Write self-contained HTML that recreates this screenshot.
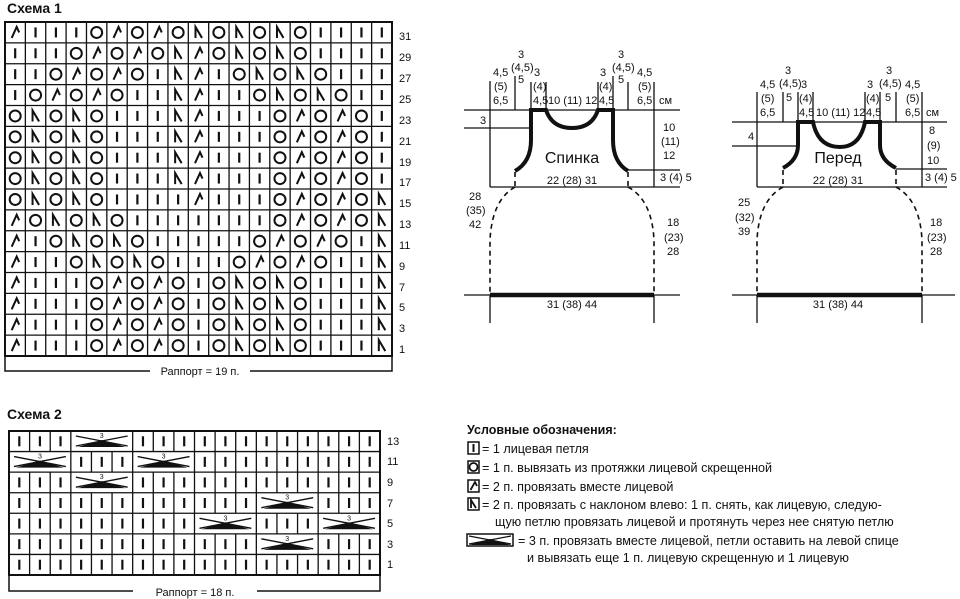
<!DOCTYPE html>
<html><head><meta charset="utf-8">
<style>
html,body{margin:0;padding:0;background:#fff;}
svg{display:block;font-family:"Liberation Sans","DejaVu Sans",sans-serif;}
text{fill:#111;}
</style></head>
<body>
<svg id="s" width="960" height="599" viewBox="0 0 960 599" xmlns="http://www.w3.org/2000/svg">
<defs>
<g id="gI"><line x1="0" y1="-5" x2="0" y2="5" stroke="#111" stroke-width="2.2"/></g>
<g id="gO"><circle cx="0" cy="0" r="5.5" fill="none" stroke="#111" stroke-width="2"/></g>
<g id="gA"><path d="M-3.5,5.5 L1.5,-5.5 L4,0" fill="none" stroke="#111" stroke-width="2"/></g>
<g id="gN"><path d="M-3,5.5 L-3,-5.5 L3.5,5.5" fill="none" stroke="#111" stroke-width="2"/></g>
</defs>
<!-- Schema 1 -->
<text x="7" y="13" font-size="14" font-weight="bold">Схема 1</text>
<g id="g1"></g>
<g font-size="11">
<text x="399" y="40">31</text><text x="399" y="61">29</text><text x="399" y="82">27</text><text x="399" y="103">25</text>
<text x="399" y="124">23</text><text x="399" y="145">21</text><text x="399" y="166">19</text><text x="399" y="186">17</text>
<text x="399" y="207">15</text><text x="399" y="228">13</text><text x="399" y="249">11</text><text x="399" y="270">9</text>
<text x="399" y="291">7</text><text x="399" y="311">5</text><text x="399" y="332">3</text><text x="399" y="353">1</text>
</g>
<path d="M5,356 V371 H150 M250,371 H392 V356" fill="none" stroke="#111" stroke-width="1.5"/>
<text x="200" y="375" font-size="11" text-anchor="middle">Раппорт = 19 п.</text>

<!-- Schema 2 -->
<text x="7" y="419" font-size="14" font-weight="bold">Схема 2</text>
<g id="g2"></g>
<g font-size="11">
<text x="387" y="445">13</text><text x="387" y="465">11</text><text x="387" y="486">9</text><text x="387" y="507">7</text>
<text x="387" y="527">5</text><text x="387" y="548">3</text><text x="387" y="568">1</text>
</g>
<path d="M9,575 V591 H133 M257,591 H380 V575" fill="none" stroke="#111" stroke-width="1.5"/>
<text x="195" y="596" font-size="11" text-anchor="middle">Раппорт = 18 п.</text>

<!-- Back -->
<g stroke="#111" stroke-width="1.3" fill="none">
<path d="M490,81 V187 M515,76 V110 M531,82 V110 M546,82 V110 M598,82 V110 M613,76 V110 M628,82 V110 M654,82 V187"/>
<path d="M464,110 H680 M464,128 H531 M628,170 H680 M490,187 H680"/>
<path d="M490,295 V323 M654,295 V323 M464,295 H680"/>
<path d="M515,172 V187 M515,187 Q492,200 490,240 V295 M628,172 V187 M628,187 Q652,200 654,240 V295" stroke-dasharray="5,4" stroke-width="1.6"/>
</g>
<path d="M515,171 Q531,162 531,140 V110 H546 Q552,128 572,128 Q592,128 598,110 H613 V140 Q613,162 628,171" fill="none" stroke="#111" stroke-width="4"/>
<line x1="490" y1="295" x2="654" y2="295" stroke="#111" stroke-width="4.5"/>
<g font-size="11">
<text x="518" y="58">3</text><text x="511" y="71">(4,5)</text><text x="518" y="83">5</text>
<text x="493" y="76">4,5</text><text x="494" y="90">(5)</text><text x="493" y="104">6,5</text>
<text x="534" y="76">3</text><text x="533" y="90">(4)</text><text x="533" y="104">4,5</text>
<text x="548" y="104">10 (11) 12</text>
<text x="600" y="76">3</text><text x="599" y="90">(4)</text><text x="599" y="104">4,5</text>
<text x="618" y="58">3</text><text x="612" y="71">(4,5)</text><text x="618" y="83">5</text>
<text x="637" y="76">4,5</text><text x="638" y="90">(5)</text><text x="637" y="104">6,5</text>
<text x="659" y="104">см</text>
<text x="480" y="124">3</text>
<text x="663" y="131">10</text><text x="661" y="145">(11)</text><text x="663" y="159">12</text>
<text x="660" y="181">3 (4) 5</text>
<text x="572" y="184" text-anchor="middle">22 (28) 31</text>
<text x="469" y="200">28</text><text x="466" y="214">(35)</text><text x="469" y="228">42</text>
<text x="667" y="226">18</text><text x="664" y="241">(23)</text><text x="667" y="255">28</text>
<text x="572" y="308" text-anchor="middle">31 (38) 44</text>
</g>
<text x="572" y="163" font-size="16" text-anchor="middle">Спинка</text>

<!-- Front -->
<g stroke="#111" stroke-width="1.3" fill="none">
<path d="M757,92 V187 M783,92 V122 M798,92 V122 M813,92 V122 M865,92 V122 M880,92 V122 M896,92 V122 M922,92 V187"/>
<path d="M732,122 H947 M732,146 H798 M896,169 H947 M757,187 H947"/>
<path d="M757,295 V323 M922,295 V323 M732,295 H955"/>
<path d="M783,170 V187 M783,187 Q759,200 757,240 V295 M896,170 V187 M896,187 Q920,200 922,240 V295" stroke-dasharray="5,4" stroke-width="1.6"/>
</g>
<path d="M783,168 Q798,160 798,145 V122 H813 Q818,147 840,147 Q860,147 865,122 H880 V145 Q880,160 896,168" fill="none" stroke="#111" stroke-width="4"/>
<line x1="757" y1="295" x2="922" y2="295" stroke="#111" stroke-width="4.5"/>
<g font-size="11">
<text x="785" y="74">3</text><text x="779" y="87">(4,5)</text><text x="786" y="101">5</text>
<text x="760" y="88">4,5</text><text x="761" y="102">(5)</text><text x="760" y="116">6,5</text>
<text x="801" y="88">3</text><text x="799" y="102">(4)</text><text x="799" y="116">4,5</text>
<text x="816" y="116">10 (11) 12</text>
<text x="867" y="88">3</text><text x="866" y="102">(4)</text><text x="866" y="116">4,5</text>
<text x="886" y="74">3</text><text x="879" y="87">(4,5)</text><text x="885" y="101">5</text>
<text x="905" y="88">4,5</text><text x="906" y="102">(5)</text><text x="905" y="116">6,5</text>
<text x="926" y="116">см</text>
<text x="748" y="140">4</text>
<text x="929" y="134">8</text><text x="927" y="149">(9)</text><text x="927" y="164">10</text>
<text x="925" y="181">3 (4) 5</text>
<text x="838" y="184" text-anchor="middle">22 (28) 31</text>
<text x="738" y="206">25</text><text x="735" y="221">(32)</text><text x="738" y="235">39</text>
<text x="930" y="226">18</text><text x="927" y="241">(23)</text><text x="930" y="255">28</text>
<text x="838" y="308" text-anchor="middle">31 (38) 44</text>
</g>
<text x="838" y="163" font-size="16" text-anchor="middle">Перед</text>

<!-- Legend -->
<text x="467" y="434" font-size="12.5" font-weight="bold">Условные обозначения:</text>
<g stroke="#111" stroke-width="1.5" fill="none">
<rect x="468" y="442" width="11" height="12"/><rect x="468" y="461" width="11" height="12"/>
<rect x="468" y="480" width="11" height="12"/><rect x="468" y="498" width="11" height="12"/>
<rect x="467" y="534" width="46" height="12"/>
</g>
<line x1="473.5" y1="444" x2="473.5" y2="452" stroke="#111" stroke-width="2"/>
<circle cx="473.5" cy="467" r="4" fill="none" stroke="#111" stroke-width="1.8"/>
<path d="M470.5,490 L475,482 L477,486" fill="none" stroke="#111" stroke-width="1.8"/>
<path d="M471,508 L471,500 L476,508" fill="none" stroke="#111" stroke-width="1.8"/>
<g>
<path d="M469,536 L511,544 M511,536 L469,544" stroke="#111" stroke-width="1.3"/>
<path d="M490,539 L469,545 L511,545 Z" fill="#111"/>
</g>
<g font-size="12.6">
<text x="482" y="453">= 1 лицевая петля</text>
<text x="482" y="472">= 1 п. вывязать из протяжки лицевой скрещенной</text>
<text x="482" y="491">= 2 п. провязать вместе лицевой</text>
<text x="482" y="509">= 2 п. провязать с наклоном влево: 1 п. снять, как лицевую, следую-</text>
<text x="495" y="526">щую петлю провязать лицевой и протянуть через нее снятую петлю</text>
<text x="518" y="545">= 3 п. провязать вместе лицевой, петли оставить на левой спице</text>
<text x="527" y="562">и вывязать еще 1 п. лицевую скрещенную и 1 лицевую</text>
</g>
</svg>
<script>
(function(){
var NS="http://www.w3.org/2000/svg";
function el(p,t,a){var e=document.createElementNS(NS,t);for(var k in a)e.setAttribute(k,a[k]);p.appendChild(e);return e;}
var rows=["AIIIOAOAONONONOIIII","IIIOAOAONAONONOIIII","IIOAOAOINAIONONOIII","IOAOAOIINAIIONONOII",
"ONONOIIINAIIIOAOAOI","ONONOIIINAIIIOAOAOI","ONONOIIINAIIIOAOAOI","ONONOIIINAIIIOAOAOI",
"ONONOIIIIAIIIOAOAON","AONONOIIIIIIIOAOAON","AIONONOIIIIIOAOAOIN","AIIONONOIIIOAOAOIIN",
"AIIIOAOAOIONONOIIIN","AIIIOAOAOIONONOIIIN","AIIIOAOAOIONONOIIIN","AIIIOAOAOIONONOIIIN"];
var g1=document.getElementById("g1");
var x0=5,x1=392,y0=22,y1=356,cw=(x1-x0)/19,rh=(y1-y0)/16;
for(var i=1;i<19;i++)el(g1,"line",{x1:x0+i*cw,y1:y0,x2:x0+i*cw,y2:y1,stroke:"#111","stroke-width":1.3});
for(var j=1;j<16;j++)el(g1,"line",{x1:x0,y1:y0+j*rh,x2:x1,y2:y0+j*rh,stroke:"#111","stroke-width":1.3});
el(g1,"rect",{x:x0,y:y0,width:x1-x0,height:y1-y0,fill:"none",stroke:"#111","stroke-width":2});
for(var r=0;r<16;r++)for(var c=0;c<19;c++){
 el(g1,"use",{href:"#g"+rows[r][c],x:x0+(c+0.5)*cw,y:y0+(r+0.5)*rh});
}
var g2=document.getElementById("g2");
var X0=9,X1=380,Y0=431,Y1=575,CW=(X1-X0)/18,RH=(Y1-Y0)/7;
var cr={0:[3],1:[0,6],2:[3],3:[12],4:[9,15],5:[12]};
el(g2,"rect",{x:X0,y:Y0,width:X1-X0,height:Y1-Y0,fill:"none",stroke:"#111","stroke-width":2});
for(var j=1;j<7;j++)el(g2,"line",{x1:X0,y1:Y0+j*RH,x2:X1,y2:Y0+j*RH,stroke:"#111","stroke-width":1.3});
for(var r=0;r<7;r++){
 var cs=cr[r]||[];
 var inCross=function(c){for(var k=0;k<cs.length;k++)if(c>=cs[k]&&c<cs[k]+3)return true;return false;};
 for(var i=1;i<18;i++){
  var a=false;for(var k=0;k<cs.length;k++)if(i>cs[k]&&i<cs[k]+3)a=true;if(a)continue;
  el(g2,"line",{x1:X0+i*CW,y1:Y0+r*RH,x2:X0+i*CW,y2:Y0+(r+1)*RH,stroke:"#111","stroke-width":1.3});
 }
 for(var c=0;c<18;c++){if(!inCross(c))el(g2,"use",{href:"#gI",x:X0+(c+0.5)*CW,y:Y0+(r+0.5)*RH});}
 for(var k=0;k<cs.length;k++){
  var a=X0+cs[k]*CW+5,b=X0+(cs[k]+3)*CW-5,t=Y0+r*RH+5,bt=Y0+r*RH+15,m=(a+b)/2;
  el(g2,"path",{d:"M"+a+","+t+" L"+b+","+bt+" M"+b+","+t+" L"+a+","+bt,stroke:"#111","stroke-width":1.4,fill:"none"});
  el(g2,"path",{d:"M"+m+","+(t+4)+" L"+(a+2)+","+(bt+1)+" L"+(b-2)+","+(bt+1)+" Z",fill:"#111"});
  var tx=el(g2,"text",{x:m,y:t+2,"font-size":7,"text-anchor":"middle",fill:"#555"});tx.textContent="3";
 }
}
})();
</script>
</body></html>
